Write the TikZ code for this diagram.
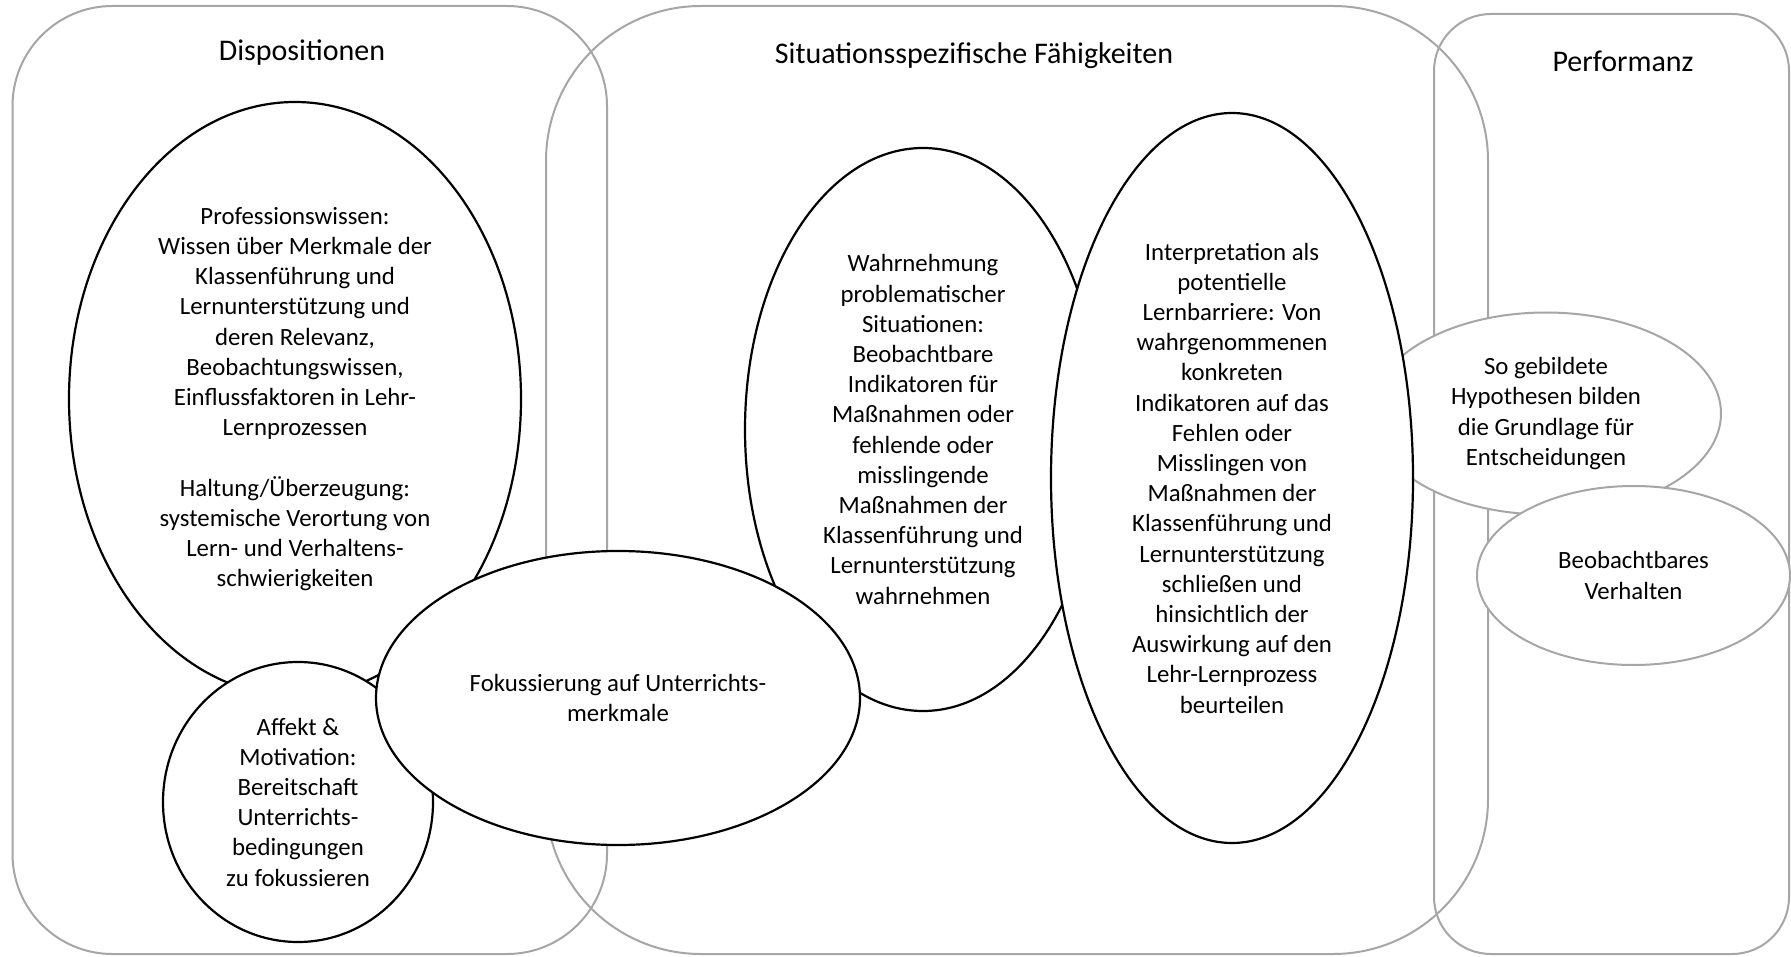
\documentclass[tikz,border=0pt]{standalone}
\usepackage{fontspec}
\setmainfont{Carlito}
\usetikzlibrary{shapes.geometric}
\definecolor{boxgray}{HTML}{A6A6A6}
\newcommand\bodyfont{\fontsize{24.8}{30.2}\selectfont}
\newcommand\titlefont{\fontsize{30}{36}\selectfont}
\tikzset{
  frame/.style={draw=boxgray, line width=2pt, rectangle, inner sep=0pt},
  bub/.style={draw=black, line width=2.2pt, ellipse, fill=white, inner sep=0pt, align=center, font=\bodyfont},
  graybub/.style={bub, draw=boxgray, line width=2pt},
  titletext/.style={font=\titlefont, inner sep=0pt}
}
\begin{document}
\begin{tikzpicture}[x=1pt, y=-1pt]
\useasboundingbox (0,0) rectangle (1791,957);
\fill[white] (0,0) rectangle (1791,957);
% frames
\node[frame, rounded corners=100pt, minimum width=594.5pt, minimum height=948pt] (disp) at (309.75,480) {};
\node[frame, rounded corners=155pt, minimum width=942pt, minimum height=948pt] (sit) at (1017,480) {};
\node[frame, rounded corners=57pt, minimum width=355pt, minimum height=940pt] (perf) at (1611.5,484) {};
% titles
\node[titletext] (tdisp) at (302,53) {Dispositionen};
\node[titletext] (tsit) at (974,56) {Situationsspezifische Fähigkeiten};
\node[titletext] (tperf) at (1623,61) {Performanz};
% ellipses
\node[bub, minimum width=452pt, minimum height=594pt] (prof) at (295,399) {Professionswissen:\\Wissen über Merkmale der\\Klassenführung und\\Lernunterstützung und\\deren Relevanz,\\Beobachtungswissen,\\Einflussfaktoren in Lehr-\\Lernprozessen\\~\\Haltung/Überzeugung:\\systemische Verortung von\\Lern- und Verhaltens-\\schwierigkeiten};
\node[bub, minimum width=356pt, minimum height=563pt] (wahr) at (923,429.5) {Wahrnehmung\\problematischer\\Situationen:\\Beobachtbare\\Indikatoren für\\Maßnahmen oder\\fehlende oder\\misslingende\\Maßnahmen der\\Klassenführung und\\Lernunterstützung\\wahrnehmen};
\node[bub, minimum width=270pt, minimum height=280pt] (affekt) at (298,802) {Affekt \&\\Motivation:\\Bereitschaft\\Unterrichts-\\bedingungen\\zu fokussieren};
\node[bub, minimum width=484pt, minimum height=294pt] (fokus) at (618,698) {Fokussierung auf Unterrichts-\\merkmale};
\node[graybub, minimum width=350pt, minimum height=202pt] (sogeb) at (1546,413.5) {So gebildete\\Hypothesen bilden\\die Grundlage für\\Entscheidungen};
\node[bub, minimum width=362pt, minimum height=730pt] (interp) at (1232,478) {Interpretation als\\potentielle\\Lernbarriere: Von\\wahrgenommenen\\konkreten\\Indikatoren auf das\\Fehlen oder\\Misslingen von\\Maßnahmen der\\Klassenführung und\\Lernunterstützung\\schließen und\\hinsichtlich der\\Auswirkung auf den\\Lehr-Lernprozess\\beurteilen};
\node[graybub, minimum width=313pt, minimum height=179pt] (beob) at (1633.5,575.5) {Beobachtbares\\Verhalten};
\end{tikzpicture}
\end{document}
